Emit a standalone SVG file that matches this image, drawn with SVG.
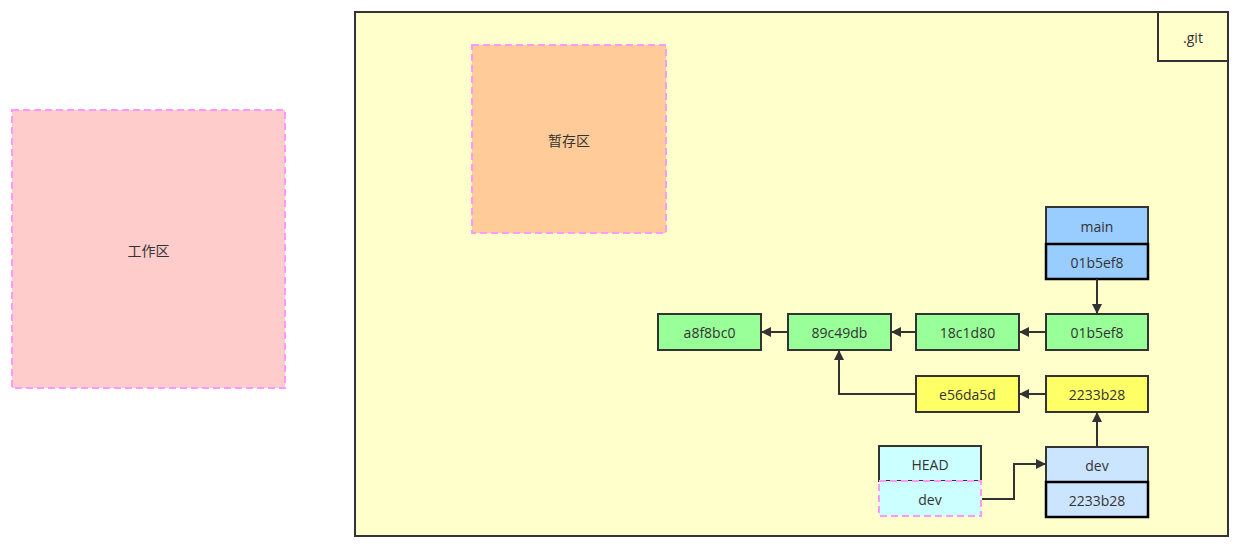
<svg xmlns="http://www.w3.org/2000/svg" width="1239" height="548" viewBox="0 0 1239 548">
<defs>
<style>
.t{font-family:"Open Sans","Noto Sans CJK SC",sans-serif;font-size:14px;fill:#333;text-anchor:middle;dominant-baseline:central}
.dash{stroke:#FF99FF;stroke-width:2;stroke-dasharray:7 4}
.box{stroke:#333;stroke-width:2}
.c{fill:#99FF99}
.y{fill:#FFFF66}
.e{fill:none;stroke:#333;stroke-width:2}
</style>
<marker id="a" viewBox="0 0 10 10" refX="9" refY="5" markerWidth="5.5" markerHeight="5" orient="auto" markerUnits="strokeWidth">
<path d="M0,0 L10,5 L0,10 Z" fill="#333"/>
</marker>
</defs>
<rect width="1239" height="548" fill="#fff"/>
<g id="work">
<rect x="12" y="110" width="273" height="278" fill="#FFCCCC" class="dash"/>
<text x="148.5" y="250" class="t">工作区</text>
</g>
<g id="git">
<rect x="355" y="12" width="873" height="524" fill="#FFFFCC" class="box"/>
<rect x="1158" y="12" width="70" height="49" fill="#FFFFCC" class="box"/>
<text x="1193" y="37" class="t">.git</text>
</g>
<g id="stage">
<rect x="472" y="45" width="194" height="188" fill="#FFCC99" class="dash"/>
<text x="569" y="140" class="t">暂存区</text>
</g>
<g id="main">
<rect x="1046" y="207" width="102" height="37" fill="#99CCFF" class="box"/>
<text x="1097" y="226" class="t">main</text>
<rect x="1046" y="244" width="102" height="35" fill="#99CCFF" stroke="#000" stroke-width="2.5"/>
<text x="1097" y="262" class="t">01b5ef8</text>
</g>
<g id="c1"><rect x="658" y="314" width="103" height="36" class="box c"/><text x="709.5" y="332" class="t">a8f8bc0</text></g>
<g id="c2"><rect x="788" y="314" width="103" height="36" class="box c"/><text x="839.5" y="332" class="t">89c49db</text></g>
<g id="c3"><rect x="916" y="314" width="103" height="36" class="box c"/><text x="967.5" y="332" class="t">18c1d80</text></g>
<g id="c4"><rect x="1046" y="314" width="102" height="36" class="box c"/><text x="1097" y="332" class="t">01b5ef8</text></g>
<g id="y1"><rect x="916" y="376" width="103" height="36" class="box y"/><text x="967.5" y="394" class="t">e56da5d</text></g>
<g id="y2"><rect x="1046" y="376" width="102" height="36" class="box y"/><text x="1097" y="394" class="t">2233b28</text></g>
<g id="head">
<rect x="879" y="446" width="102" height="35" fill="#CCFFFF" class="box"/>
<text x="930" y="464" class="t">HEAD</text>
<rect x="879" y="481" width="102" height="35" fill="#CCFFFF" class="dash"/>
<text x="930" y="499" class="t">dev</text>
</g>
<g id="dev">
<rect x="1046" y="447" width="102" height="35" fill="#CCE5FF" class="box"/>
<text x="1097" y="465" class="t">dev</text>
<rect x="1046" y="482" width="102" height="35" fill="#CCE5FF" stroke="#000" stroke-width="2.5"/>
<text x="1097" y="500" class="t">2233b28</text>
</g>
<g id="edges">
<path d="M1097,279 L1097,313" class="e" marker-end="url(#a)"/>
<path d="M1046,332 L1020,332" class="e" marker-end="url(#a)"/>
<path d="M916,332 L892,332" class="e" marker-end="url(#a)"/>
<path d="M788,332 L762,332" class="e" marker-end="url(#a)"/>
<path d="M1046,394 L1020,394" class="e" marker-end="url(#a)"/>
<path d="M916,394 L839,394 L839,351" class="e" marker-end="url(#a)"/>
<path d="M1097,447 L1097,413" class="e" marker-end="url(#a)"/>
<path d="M982,499 L1014,499 L1014,464 L1045,464" class="e" marker-end="url(#a)"/>
</g>
</svg>
